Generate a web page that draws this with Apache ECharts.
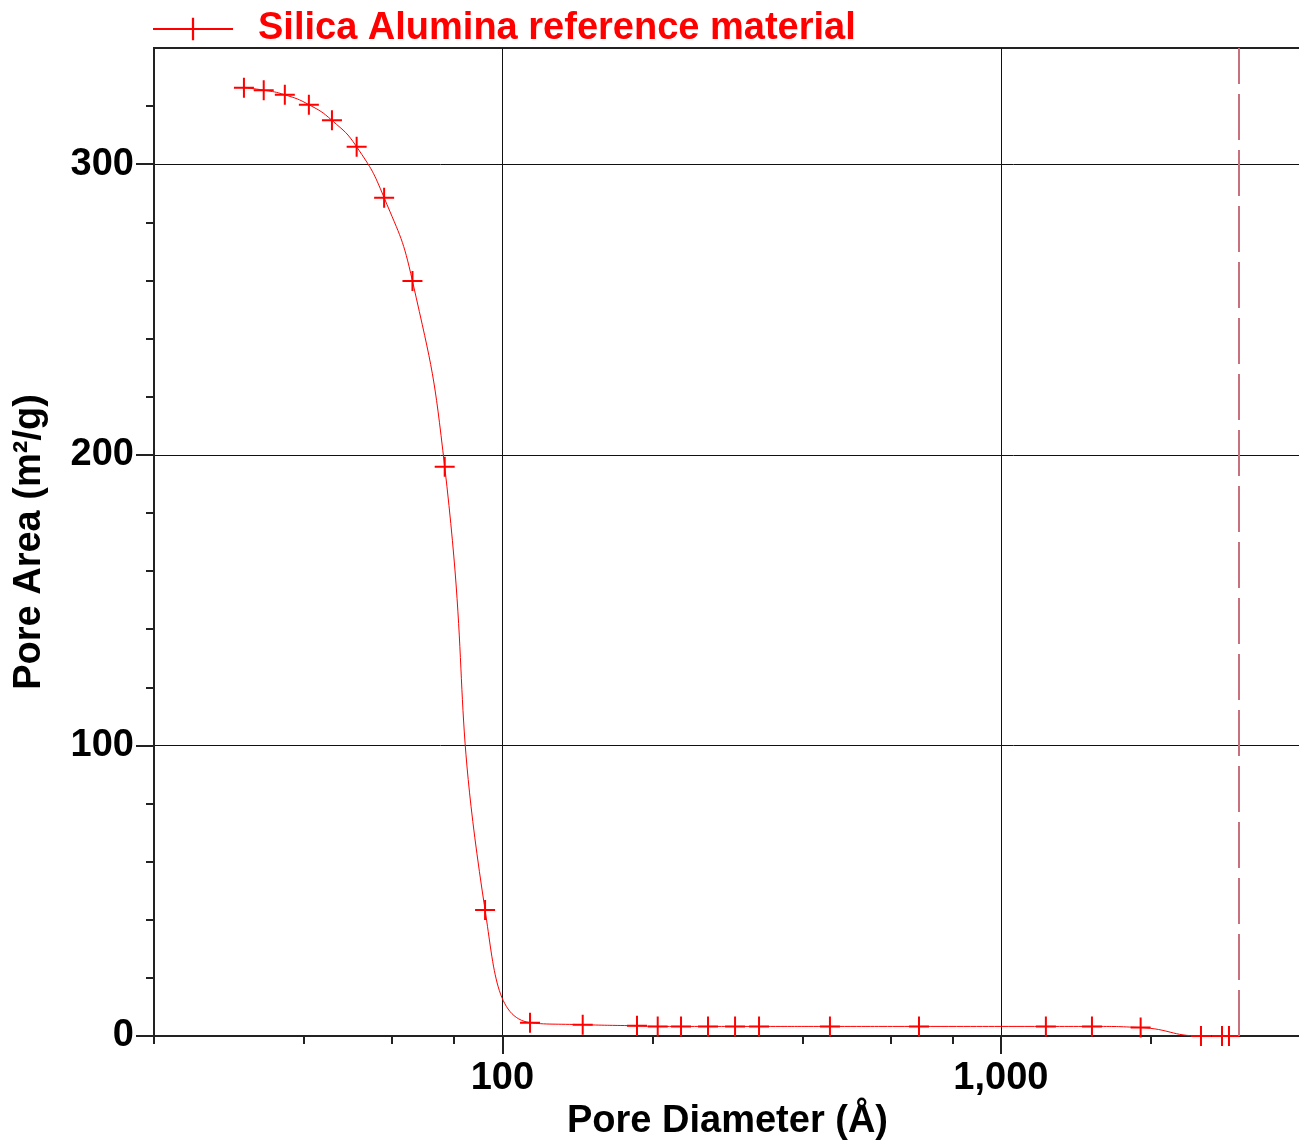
<!DOCTYPE html>
<html>
<head>
<meta charset="utf-8">
<title>Pore Area vs Pore Diameter</title>
<script src="https://cdn.jsdelivr.net/npm/echarts@6/dist/echarts.min.js"></script>
<style>
  html, body { margin: 0; padding: 0; background: #ffffff; overflow: hidden; }
  #chart { width: 1299px; height: 1141px; }
</style>
</head>
<body>
<div id="chart"></div>
<script>
// Cumulative pore area of the silica alumina reference material
const seriesName = 'Silica Alumina reference material';
const poreDiameters = [30.3, 33.2, 36.6, 40.9, 45.5, 51.0, 57.9, 66.0, 76.6, 92.3,
  113.6, 144.9, 186.2, 204.9, 228.2, 258.5, 292.9, 327.2, 454, 685,
  1231, 1523, 1907, 2520, 2777, 2868];
const poreAreas = [326.3, 325.5, 323.9, 320.5, 315.1, 306.0, 288.5, 259.8, 195.9, 43.4,
  4.6, 3.9, 3.5, 3.3, 3.3, 3.3, 3.3, 3.3, 3.3, 3.3,
  3.3, 3.3, 2.9, 0, 0, 0];

// Axis ticks
const xMajorTicks = [100, 1000];
const xMinorTicks = [20, 40, 60, 80, 200, 400, 600, 800, 2000];
const yMajorTicks = [0, 100, 200, 300];
const yMinorTicks = [20, 40, 60, 80, 120, 140, 160, 180, 220, 240, 260, 280, 320];
const markerDiameter = 3000;

const FONT = '"Liberation Sans", Arial, Helvetica, sans-serif';
const RED = '#ff0000';
const AXIS = '#222222';

const points = poreDiameters.map((d, i) => [d, poreAreas[i]]);

const chart = echarts.init(document.getElementById('chart'), null, { renderer: 'canvas' });

chart.setOption({
  backgroundColor: '#ffffff',
  animation: false,
  textStyle: { fontFamily: FONT },
  legend: {
    show: true,
    left: 152,
    top: 10,
    itemWidth: 80,
    itemHeight: 28,
    itemGap: 10,
    padding: 0,
    data: [seriesName],
    textStyle: {
      fontFamily: FONT, fontSize: 38, fontWeight: 'bold', color: RED,
      padding: [0, 0, 0, 20]
    }
  },
  grid: {
    left: 154,
    top: 48,
    width: 1147,
    height: 988,
    show: true,
    borderColor: AXIS,
    borderWidth: 2,
    containLabel: false,
    outerBoundsMode: 'none'
  },
  xAxis: [
    {
      type: 'log',
      logBase: 10,
      min: 20,
      max: 4000,
      position: 'bottom',
      name: 'Pore Diameter (Å)',
      nameLocation: 'middle',
      nameGap: 66,
      nameTextStyle: { fontFamily: FONT, fontSize: 38, fontWeight: 'bold', color: '#000' },
      axisLine: { show: true, lineStyle: { color: AXIS, width: 2 } },
      axisTick: {
        show: true, length: 18, customValues: xMajorTicks,
        lineStyle: { color: AXIS, width: 2 }
      },
      axisLabel: {
        show: true, customValues: xMajorTicks, margin: 24,
        fontFamily: FONT, fontSize: 38, fontWeight: 'bold', color: '#000',
        formatter: (v) => Number(v).toLocaleString('en-US')
      },
      splitLine: { show: true, lineStyle: { color: '#111', width: 1 } },
      minorTick: { show: false },
      minorSplitLine: { show: false }
    },
    {
      type: 'log',
      logBase: 10,
      min: 20,
      max: 4000,
      position: 'bottom',
      axisLine: { show: false },
      axisTick: {
        show: true, length: 8, customValues: xMinorTicks,
        lineStyle: { color: AXIS, width: 2 }
      },
      axisLabel: { show: false },
      splitLine: { show: false }
    }
  ],
  yAxis: [
    {
      type: 'value',
      min: 0,
      max: 340,
      interval: 100,
      position: 'left',
      name: 'Pore Area (m²/g)',
      nameLocation: 'middle',
      nameGap: 105,
      nameTextStyle: { fontFamily: FONT, fontSize: 38, fontWeight: 'bold', color: '#000' },
      axisLine: { show: true, lineStyle: { color: AXIS, width: 2 } },
      axisTick: {
        show: true, length: 18, customValues: yMajorTicks,
        lineStyle: { color: AXIS, width: 2 }
      },
      axisLabel: {
        show: true, customValues: yMajorTicks, margin: 20,
        fontFamily: FONT, fontSize: 38, fontWeight: 'bold', color: '#000'
      },
      splitLine: { show: true, lineStyle: { color: '#111', width: 1 } }
    },
    {
      type: 'value',
      min: 0,
      max: 340,
      position: 'left',
      axisLine: { show: false },
      axisTick: {
        show: true, length: 8, customValues: yMinorTicks,
        lineStyle: { color: AXIS, width: 2 }
      },
      axisLabel: { show: false },
      splitLine: { show: false }
    }
  ],
  series: [
    {
      name: seriesName,
      type: 'line',
      xAxisIndex: 0,
      yAxisIndex: 0,
      data: points,
      smooth: 0.5,
      symbol: 'path://M0,9h20v2h-20zM9,0h2v20h-2z',
      symbolSize: 20,
      symbolKeepAspect: true,
      lineStyle: { color: RED, width: 1 },
      itemStyle: { color: RED },
      clip: false,
      markLine: {
        silent: true,
        symbol: ['none', 'none'],
        label: { show: false },
        lineStyle: { color: '#c8707c', width: 2, type: [46, 10] },
        data: [{ xAxis: markerDiameter }]
      }
    }
  ]
});
</script>
</body>
</html>
